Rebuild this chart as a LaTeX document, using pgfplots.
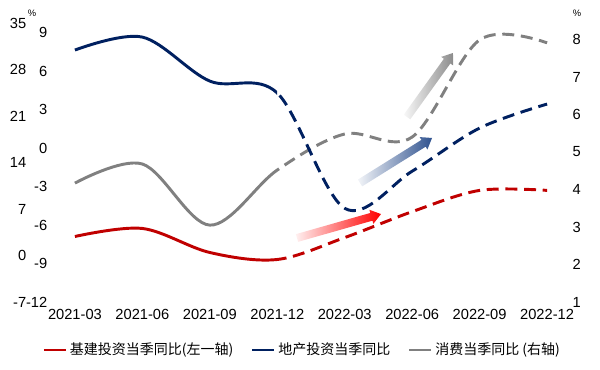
\documentclass[border=0pt]{standalone}
\usepackage{pgfplots}
\usepackage{pgfplotstable}
\pgfplotsset{compat=1.18}
\usepackage{fontspec}
\setmainfont{Liberation Sans}
\newfontfamily\cjk{Noto Sans CJK SC}
\definecolor{cred}{RGB}{192,0,0}
\definecolor{cblue}{RGB}{0,32,96}
\definecolor{cgrey}{RGB}{128,128,128}
\definecolor{ared}{RGB}{255,0,0}
\definecolor{ablue}{RGB}{47,82,143}
\definecolor{agrey}{RGB}{140,140,140}

\pgfplotstableread{
x jj dc xf
0 2.86 7.64 4.17
1 4.07 8.65 4.68
2 0.45 5.22 3.05
3 -0.6 4.29 4.52
4 2.7 -4.70 5.48
5 6.6 -1.80 5.40
6 9.8 1.56 7.99
7 9.8 3.43 7.91
}\data

\pgfplotsset{
 base/.style={at={(0,0)}, anchor=south west, scale only axis, width=387pt, height=209.25pt,
   xmin=-0.34, xmax=7.31, axis line style={draw=none}, major tick length=0pt, clip=false,
   /pgf/number format/assume math mode=true, tick label style={font=\fontsize{11}{13}\selectfont}},
 noticks/.style={xtick=\empty, ytick=\empty},
 axJ/.style={ymin=-7, ymax=35},
 axD/.style={ymin=-12, ymax=9.75},
 axX/.style={ymin=1, ymax=8.44},
 ln/.style={smooth, tension=0.55, line width=2.2pt, no markers},
 dsh/.style={dash pattern=on 9pt off 5pt},
}

\newcommand\garrow[5]{%
\begin{scope}[shift={(#1,#2)}, rotate=#3]
\shade[left color=#5!6, right color=#5] (0pt,-3pt) -- (#4-7.5pt,-3pt) -- (#4-7.5pt,-5.5pt) -- (#4,0pt) -- (#4-7.5pt,5.5pt) -- (#4-7.5pt,3pt) -- (0pt,3pt) -- cycle;
\end{scope}}

\begin{document}
\begin{tikzpicture}
\path (-39pt,-51pt) rectangle (411pt,226.5pt);
\begin{scope}
\clip (-39pt,-51pt) rectangle (168.75pt,226.5pt);
\begin{axis}[base,axX,noticks] \addplot[ln,cgrey] table[x=x,y=xf]{\data}; \end{axis}
\begin{axis}[base,axJ,noticks] \addplot[ln,cred] table[x=x,y=jj]{\data}; \end{axis}
\begin{axis}[base,axD,noticks] \addplot[ln,cblue] table[x=x,y=dc]{\data}; \end{axis}
\end{scope}
\begin{scope}
\clip (168.75pt,-51pt) rectangle (411pt,226.5pt);
\begin{axis}[base,axX,noticks] \addplot[ln,dsh,cgrey] table[x=x,y=xf]{\data}; \end{axis}
\begin{axis}[base,axJ,noticks] \addplot[ln,dsh,cred] table[x=x,y=jj]{\data}; \end{axis}
\begin{axis}[base,axD,noticks] \addplot[ln,dsh,cblue] table[x=x,y=dc]{\data}; \end{axis}
\end{scope}

\begin{axis}[base,axJ,ytick={-7,0,...,35},xtick={0,...,7},
  xticklabels={2021-03,2021-06,2021-09,2021-12,2022-03,2022-06,2022-09,2022-12},
  yticklabel style={xshift=-15.75pt}, xticklabel style={yshift=-2pt}]
\end{axis}
\begin{axis}[base,axD,ytick={-12,-9,...,9},xtick=\empty]
\end{axis}
\begin{axis}[base,axX,ytick={1,...,8},xtick=\empty,yticklabel pos=right,
  legend style={at={(-0.027,-0.172)}, anchor=west, draw=none, fill=none, legend columns=3,
    font=\cjk\fontsize{10.5}{12.5}\selectfont, /tikz/every even column/.append style={column sep=11pt}},
  legend image code/.code={\draw[#1, line width=2.2pt] (0pt,0pt) -- (16.5pt,0pt);}]
\addlegendimage{cred}\addlegendentry{基建投资当季同比(左一轴)}
\addlegendimage{cblue}\addlegendentry{地产投资当季同比}
\addlegendimage{cgrey}\addlegendentry{消费当季同比 (右轴)}
\end{axis}

\garrow{183.75pt}{48pt}{15.9}{65.5pt}{ared}
\garrow{231pt}{89.25pt}{32}{63.7pt}{ablue}
\garrow{266.25pt}{138.75pt}{54.3}{59.1pt}{agrey}

\node[font=\fontsize{7}{8}\selectfont] at (-15pt,216.75pt) {\%};
\node[font=\fontsize{7}{8}\selectfont] at (393.75pt,216.75pt) {\%};
\end{tikzpicture}
\end{document}
